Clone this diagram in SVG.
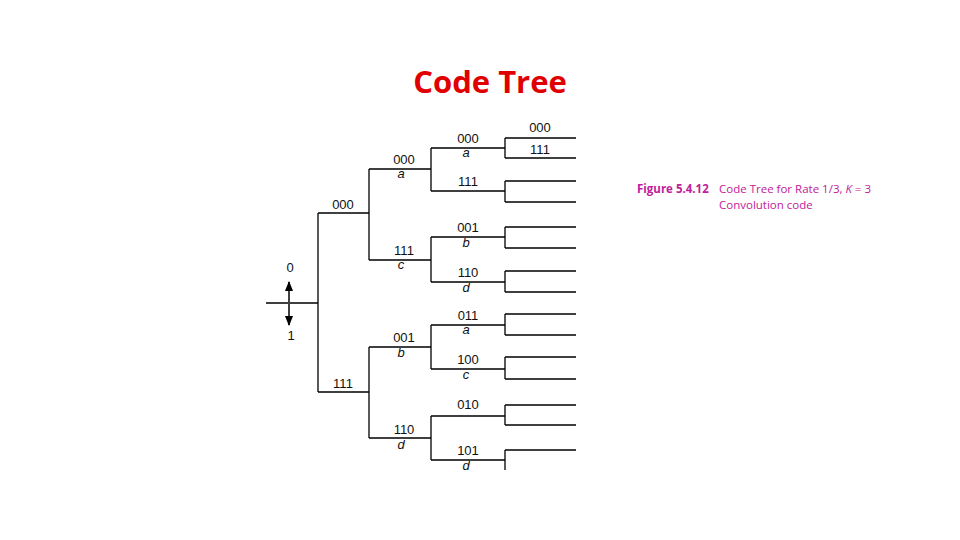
<svg xmlns="http://www.w3.org/2000/svg" width="960" height="540" viewBox="0 0 960 540">
<defs>
<style>
.l{stroke:#000;stroke-width:1.3;fill:none}
.t{font-family:"Liberation Sans",Arial,sans-serif;font-size:13px;fill:#111;text-anchor:middle}
.i{font-style:italic}
.c{font-family:"Open Sans","Liberation Sans",sans-serif;font-size:11.5px;fill:#c0209a}
</style>
<marker id="ah" viewBox="0 0 10 10" refX="9" refY="5" markerWidth="7" markerHeight="7" orient="auto-start-reverse"><path d="M0,1 L10,5 L0,9 z" fill="#000"/></marker>
</defs>
<rect width="960" height="540" fill="#fff"/>
<text x="490" y="93" font-family="'Open Sans','Liberation Sans',sans-serif" font-weight="bold" font-size="31" fill="#e00000" text-anchor="middle">Code Tree</text>
<g id="connectors">
<path class="l" d="M266,303H318M318,213V392M318,213H369M318,392H369
M369,169V260M369,169H431M369,260H431M369,347V438M369,347H431M369,438H431
M431,148V191M431,148H505M431,191H505M431,237V282M431,237H505M431,282H505
M431,325V369M431,325H505M431,369H505M431,416V460M431,416H505M431,460H505
M505,138V158M505,138H576M505,158H576M505,181V202M505,181H576M505,202H576
M505,227V248M505,227H576M505,248H576M505,271V292M505,271H576M505,292H576
M505,314V335M505,314H576M505,335H576M505,357V379M505,357H576M505,379H576
M505,405V425M505,405H576M505,425H576M505,450V470M505,450H576"/>
<line x1="289" y1="302" x2="289" y2="282" stroke="#000" stroke-width="1.5" marker-end="url(#ah)"/>
<line x1="289" y1="304" x2="289" y2="325" stroke="#000" stroke-width="1.5" marker-end="url(#ah)"/>
</g>
<g id="labels">
<text class="t" x="290" y="272">0</text>
<text class="t" x="291" y="340">1</text>
<text class="t" x="343" y="209">000</text>
<text class="t" x="343" y="388">111</text>
<text class="t" x="404" y="164">000</text><text class="t i" x="401" y="178">a</text>
<text class="t" x="404" y="255">111</text><text class="t i" x="401" y="269">c</text>
<text class="t" x="404" y="342">001</text><text class="t i" x="401" y="357">b</text>
<text class="t" x="404" y="434">110</text><text class="t i" x="401" y="449">d</text>
<text class="t" x="468" y="143">000</text><text class="t i" x="466" y="157">a</text>
<text class="t" x="468" y="186">111</text>
<text class="t" x="468" y="232">001</text><text class="t i" x="466" y="247">b</text>
<text class="t" x="468" y="277">110</text><text class="t i" x="466" y="292">d</text>
<text class="t" x="468" y="320">011</text><text class="t i" x="466" y="334">a</text>
<text class="t" x="468" y="364">100</text><text class="t i" x="466" y="379">c</text>
<text class="t" x="468" y="409">010</text>
<text class="t" x="468" y="455">101</text><text class="t i" x="466" y="470">d</text>
<text class="t" x="540" y="132">000</text>
<text class="t" x="540" y="154">111</text>
</g>
<g id="caption">
<text class="c" x="637" y="193" font-weight="bold">Figure 5.4.12</text>
<text class="c" x="719" y="193">Code Tree for Rate 1/3, <tspan font-style="italic">K</tspan> = 3</text>
<text class="c" x="719" y="209">Convolution code</text>
</g>
</svg>
